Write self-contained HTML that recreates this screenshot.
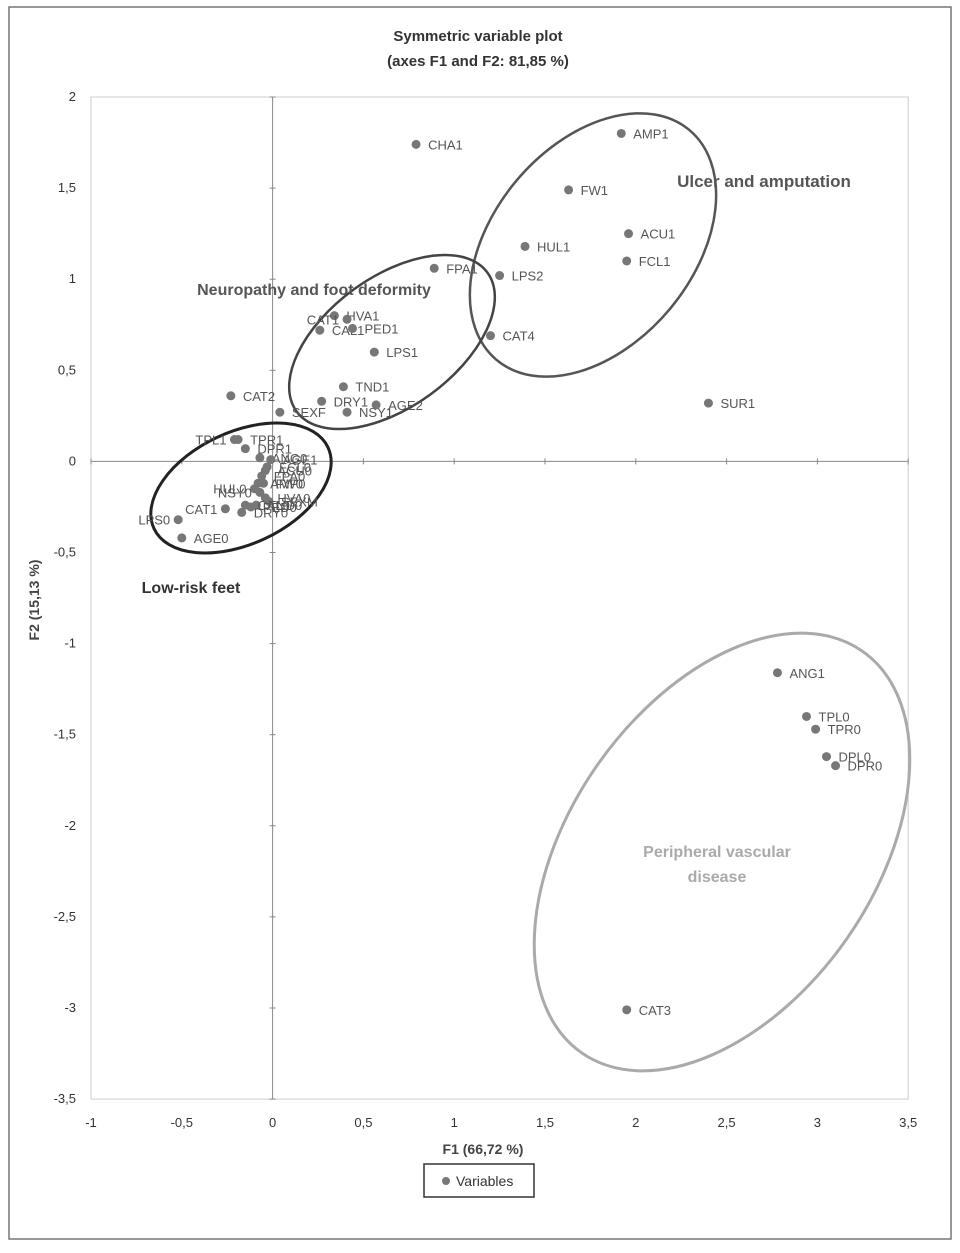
<!DOCTYPE html>
<html><head><meta charset="utf-8"><style>
body{margin:0;background:#fff;font-family:"Liberation Sans",sans-serif}
svg text{font-family:"Liberation Sans",sans-serif}
</style></head><body>
<svg id="c" width="960" height="1248">
<rect x="9" y="7" width="942" height="1232" fill="#fff" stroke="#777" stroke-width="1.5"/>
<text x="478" y="41" text-anchor="middle" font-size="15" font-weight="bold" fill="#333">Symmetric variable plot</text>
<text x="478" y="66" text-anchor="middle" font-size="15" font-weight="bold" fill="#333">(axes F1 and F2: 81,85 %)</text>
<g id="axes"></g><g id="ell"></g><g id="pts"></g>
<text x="483" y="1154" text-anchor="middle" font-size="14" font-weight="bold" fill="#444">F1 (66,72 %)</text>
<text transform="translate(39,600) rotate(-90)" text-anchor="middle" font-size="14" font-weight="bold" fill="#444">F2 (15,13 %)</text>
<g>
<rect x="424" y="1164" width="110" height="33" fill="#fff" stroke="#333" stroke-width="1.5"/>
<circle cx="446" cy="1181" r="4" fill="#777"/>
<text x="456" y="1186" font-size="14" fill="#333">Variables</text>
</g>
</svg>
<script>
const xTicks=[-1,-0.5,0,0.5,1,1.5,2,2.5,3,3.5];
const yTicks=[2,1.5,1,0.5,0,-0.5,-1,-1.5,-2,-2.5,-3,-3.5];
const labels=["CHA1","AMP1","FW1","ACU1","FCL1","HUL1","FPA1","LPS2","CAT4","HVA1","CAT1","CAL1","PED1","LPS1","TND1","DRY1","NSY1","AGE2","SEXF","CAT2","SUR1","TPL1","TPR1","DPR1","ANG0","AGE1","FCL0","ACU0","FPA0","AMP0","HUL0","FW0","NSY0","HVA0","SEXM","TND0","PED0","CAL0","CAT1","LPS0","AGE0","DRY0","ANG1","TPL0","TPR0","DPL0","DPR0","CAT3"];
const f1=[0.79,1.92,1.63,1.96,1.95,1.39,0.89,1.25,1.20,0.34,0.41,0.26,0.44,0.56,0.39,0.27,0.41,0.57,0.04,-0.23,2.40,-0.21,-0.19,-0.15,-0.07,-0.01,-0.03,-0.04,-0.06,-0.08,-0.10,-0.05,-0.07,-0.04,-0.02,-0.09,-0.12,-0.15,-0.26,-0.52,-0.50,-0.17,2.78,2.94,2.99,3.05,3.10,1.95];
const f2=[1.74,1.80,1.49,1.25,1.10,1.18,1.06,1.02,0.69,0.80,0.78,0.72,0.73,0.60,0.41,0.33,0.27,0.31,0.27,0.36,0.32,0.12,0.12,0.07,0.02,0.01,-0.03,-0.05,-0.08,-0.12,-0.15,-0.12,-0.17,-0.20,-0.22,-0.24,-0.25,-0.24,-0.26,-0.32,-0.42,-0.28,-1.16,-1.40,-1.47,-1.62,-1.67,-3.01];
const leftLabels=["TPL1","HUL0","NSY0","LPS0","CAT1"];
const NS="http://www.w3.org/2000/svg";
const X=v=>272.6+v*181.6, Y=v=>461.4-v*182.2;
function mk(t,a,p){const e=document.createElementNS(NS,t);for(const k in a)e.setAttribute(k,a[k]);p.appendChild(e);return e;}
const ax=document.getElementById('axes');
let r=mk('rect',{x:X(-1),y:Y(2),width:X(3.5)-X(-1),height:Y(-3.5)-Y(2),fill:'none',stroke:'#ccc'},ax);


let l=mk('line',{x1:X(-1),x2:X(3.5),y1:Y(0),y2:Y(0),stroke:'#888'},ax);


l=mk('line',{x1:X(0),x2:X(0),y1:Y(2),y2:Y(-3.5),stroke:'#888'},ax);


xTicks.forEach(v=>{const t=mk('text',{x:X(v),y:1127,'text-anchor':'middle','font-size':13,fill:'#333'},ax);t.textContent=String(v).replace('.',',');


const k=mk('line',{x1:X(v),x2:X(v),y1:Y(0)-3,y2:Y(0)+3,stroke:'#888'},ax);

});
yTicks.forEach(v=>{const t=mk('text',{x:76,y:Y(v)+4,'text-anchor':'end','font-size':13,fill:'#333'},ax);t.textContent=String(v).replace('.',',');


const k=mk('line',{x1:X(0)-3,x2:X(0)+3,y1:Y(v),y2:Y(v),stroke:'#888'},ax);

});
const eg=document.getElementById('ell');
const ells=[
 {n:'ulcer-amputation-ellipse',cx:593,cy:245,rx:150,ry:100,rot:-50,c:'#555',w:2.5,label:['Ulcer and amputation'],lx:764,ly:187,ls:17,lc:'#555'},
 {n:'neuropathy-ellipse',cx:392,cy:342,rx:118,ry:65,rot:-36,c:'#444',w:2.5,label:['Neuropathy and foot deformity'],lx:314,ly:295,ls:16,lc:'#555'},
 {n:'low-risk-ellipse',cx:241,cy:488,rx:96,ry:56,rot:-25,c:'#222',w:3,label:['Low-risk feet'],lx:191,ly:593,ls:16,lc:'#333'},
 {n:'pvd-ellipse',cx:722,cy:852,rx:245,ry:152,rot:-55,c:'#aaa',w:3,label:['Peripheral vascular','disease'],lx:717,ly:857,ls:16,lc:'#aaa'}];
ells.forEach(e=>{const el=mk('ellipse',{cx:e.cx,cy:e.cy,rx:e.rx,ry:e.ry,transform:`rotate(${e.rot} ${e.cx} ${e.cy})`,fill:'none',stroke:e.c,'stroke-width':e.w},eg);


e.label.forEach((s,i)=>{const t=mk('text',{x:e.lx,y:e.ly+i*25,'text-anchor':'middle','font-size':e.ls,'font-weight':'bold',fill:e.lc},eg);t.textContent=s;

});});
const pg=document.getElementById('pts');
labels.forEach((s,i)=>{const cx=X(f1[i]),cy=Y(f2[i]);
const c=mk('circle',{cx:cx,cy:cy,r:4.5,fill:'#777'},pg);


const left=leftLabels.includes(s);
const t=mk('text',{x:left?cx-8:cx+12,y:cy+5,'text-anchor':left?'end':'start','font-size':13,fill:'#555'},pg);t.textContent=s;

});
</script>
</body></html>
